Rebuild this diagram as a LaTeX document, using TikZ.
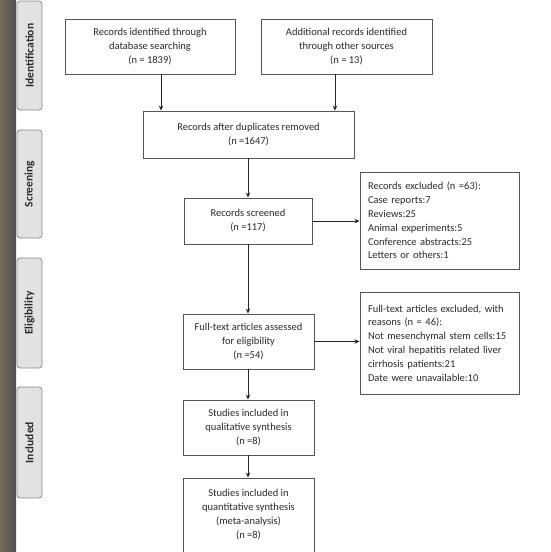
\documentclass[tikz,border=0pt]{standalone}
\usepackage{fontspec}
\setmainfont{Carlito}
\usetikzlibrary{arrows.meta}
\definecolor{txt}{HTML}{2A2A2A}
\definecolor{bord}{HTML}{555555}
\definecolor{tabfill}{HTML}{E2E2E2}
\definecolor{tabbord}{HTML}{8A8A8A}
\begin{document}
\begin{tikzpicture}[x=1pt,y=-1pt,
  box/.style={draw=bord,line width=0.9pt,fill=white,text=txt,align=center,
    font=\fontsize{10.5}{14}\selectfont,inner sep=2pt},
  exbox/.style={draw=bord,line width=0.9pt,fill=white,text=txt,align=left,
    font=\fontsize{10.5}{13.8}\selectfont,inner xsep=8pt,text width=143pt,minimum width=159pt},
  tab/.style={draw=tabbord,fill=tabfill,rounded corners=3pt,line width=0.8pt,
    minimum width=25pt},
  tablabel/.style={rotate=90,text=txt,font=\fontsize{11.5}{12}\selectfont\bfseries},
  arr/.style={draw=black!85,line width=0.9pt,-{Stealth[length=5pt,width=4.5pt]}}]
\useasboundingbox (0,0) rectangle (550,552);
\fill[white] (0,0) rectangle (550,552);
% left strip
\shade[left color={rgb,255:red,120;green,108;blue,92},right color={rgb,255:red,80;green,80;blue,80}] (0,0) rectangle (16,552);
% tabs
\draw[tab] (17,1) rectangle (42,110);
\node[tablabel] (tid) at (29.5,55.5) {Identification};
\draw[tab] (17,130) rectangle (42,238);
\node[tablabel] (tsc) at (29.5,184) {Screening};
\draw[tab] (17,258) rectangle (42,368);
\node[tablabel] (tel) at (29.5,313) {Eligibility};
\draw[tab] (17,387) rectangle (42,498);
\node[tablabel] (tin) at (29.5,442.5) {Included};
% boxes
\node[box,minimum width=170pt,minimum height=55pt] (b1) at (150,46.5)
  {Records identified through\\database searching\\(n = 1839)};
\node[box,minimum width=171pt,minimum height=55pt] (b2) at (346.5,46.5)
  {Additional records identified\\through other sources\\(n = 13)};
\node[box,minimum width=211pt,minimum height=47pt] (b3) at (248.5,134.5)
  {Records after duplicates removed\\(n =1647)};
\node[box,minimum width=128pt,minimum height=46pt] (b4) at (248,221)
  {Records screened\\(n =117)};
\node[exbox,minimum height=97pt] (e1) at (439.5,220.5)
  {Records excluded (n =63):\\Case reports:7\\Reviews:25\\Animal experiments:5\\Conference abstracts:25\\Letters or others:1};
\node[box,minimum width=131pt,minimum height=55pt] (b5) at (248.5,341.5)
  {Full-text articles assessed\\for eligibility\\(n =54)};
\node[exbox,minimum height=102pt] (e2) at (439.5,343)
  {Full-text articles excluded, with\\reasons (n = 46):\\Not mesenchymal stem cells:15\\Not viral hepatitis related liver\\cirrhosis patients:21\\Date were unavailable:10};
\node[box,minimum width=131pt,minimum height=55pt] (b6) at (248.5,427.5)
  {Studies included in\\qualitative synthesis\\(n =8)};
\node[box,minimum width=131pt,minimum height=74pt] (b7) at (248.5,515)
  {Studies included in\\quantitative synthesis\\(meta-analysis)\\(n =8)};
% arrows
\coordinate (c1) at (161,0);
\coordinate (c2) at (335,0);
\draw[arr] (b1.south -| c1) -- (b3.north -| c1);
\draw[arr] (b2.south -| c2) -- (b3.north -| c2);
\draw[arr] (b3.south -| b4) -- (b4.north);
\draw[arr] (b4.south) -- (b5.north -| b4);
\draw[arr] (b5.south -| b4) -- (b6.north -| b4);
\draw[arr] (b6.south -| b4) -- (b7.north -| b4);
\draw[arr] (b4.east) -- (b4.east -| e1.west);
\draw[arr] (b5.east) -- (b5.east -| e2.west);
\end{tikzpicture}
\end{document}
